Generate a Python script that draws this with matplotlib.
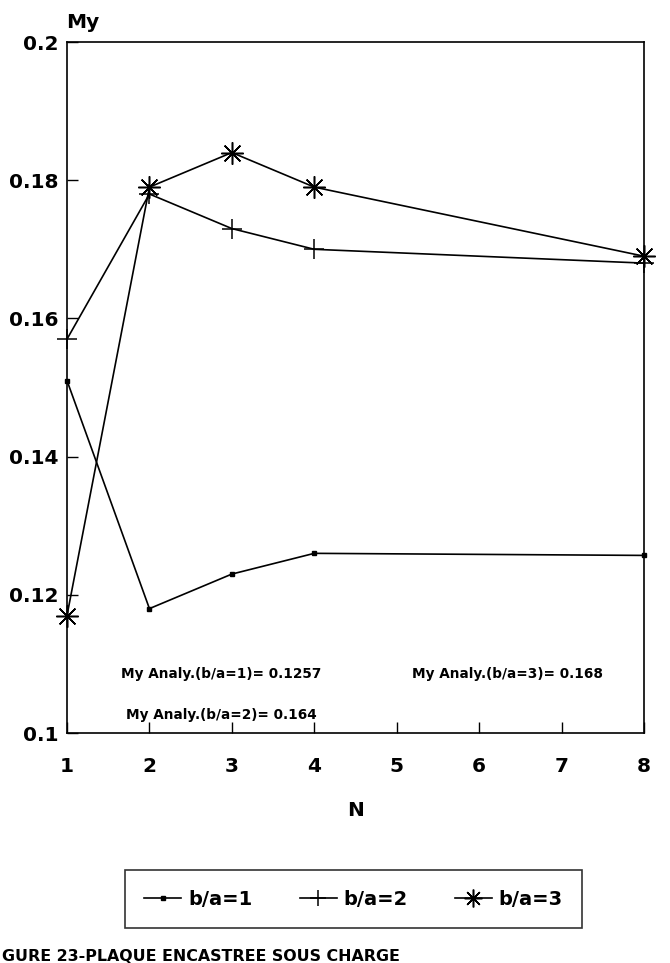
import matplotlib
matplotlib.use("Agg")
import matplotlib.pyplot as plt

plt.rcParams['font.family'] = ['DejaVu Sans']

# Data
N = [1, 2, 3, 4, 8]
my_ba1 = [0.151, 0.118, 0.123, 0.126, 0.1257]
my_ba2 = [0.157, 0.178, 0.173, 0.170, 0.168]
my_ba3 = [0.117, 0.179, 0.184, 0.179, 0.169]
series_labels = ['b/a=1', 'b/a=2', 'b/a=3']
x_ticks = [1, 2, 3, 4, 5, 6, 7, 8]
y_ticks = [0.1, 0.12, 0.14, 0.16, 0.18, 0.2]
y_tick_labels = ['0.1', '0.12', '0.14', '0.16', '0.18', '0.2']
annotations = ['My Analy.(b/a=1)= 0.1257', 'My Analy.(b/a=2)= 0.164', 'My Analy.(b/a=3)= 0.168']
caption = 'GURE 23-PLAQUE ENCASTREE SOUS CHARGE'

W, H = 670, 963
fig = plt.figure(figsize=(W / 100, H / 100), dpi=100)
L, R, T, B = 67, 644, 42, 733
ax = fig.add_axes([L / W, 1 - B / H, (R - L) / W, (B - T) / H])

lw = 1.2
star = (8, 2, 0)
h1, = ax.plot(N, my_ba1, color='black', lw=lw, marker='s', ms=3.5, label=series_labels[0])
h2, = ax.plot(N, my_ba2, color='black', lw=lw, marker='+', ms=14, mew=1.1, label=series_labels[1])
h3, = ax.plot(N, my_ba3, color='black', lw=lw, marker=star, ms=16, mew=1.1, label=series_labels[2])
for h in (h1, h2, h3):
    h.set_clip_on(False)

ax.set_xlim(1, 8)
ax.set_ylim(0.1, 0.2)
ax.set_xticks(x_ticks)
ax.set_yticks(y_ticks)
ax.set_yticklabels(y_tick_labels)
ax.tick_params(axis='both', direction='in', length=8, width=1, labelsize=14.5, color='black')
ax.tick_params(axis='x', pad=17)
ax.tick_params(axis='y', pad=6)
for lab in ax.get_xticklabels() + ax.get_yticklabels():
    lab.set_fontweight('bold')
for s in ax.spines.values():
    s.set_linewidth(1.2)

ax.text(0.0936, 0.0854, annotations[0], transform=ax.transAxes, fontsize=9.8,
        fontweight='bold', ha='left', va='center')
ax.text(0.598, 0.0854, annotations[2], transform=ax.transAxes, fontsize=9.8,
        fontweight='bold', ha='left', va='center')
ax.text(0.102, 0.026, annotations[1], transform=ax.transAxes, fontsize=9.8,
        fontweight='bold', ha='left', va='center')

fig.text(83 / W, 1 - 22 / H, 'My', fontsize=14.5, fontweight='bold', ha='center', va='center')
fig.text(355.5 / W, 1 - 810 / H, 'N', fontsize=14.5, fontweight='bold', ha='center', va='center')

leg = fig.legend(handles=[h1, h2, h3], loc='center',
                 bbox_to_anchor=(125 / W, 1 - 937 / H, 457 / W, 76 / H),
                 mode='expand', ncol=3, prop={'size': 14, 'weight': 'bold'},
                 frameon=True, fancybox=False, markerscale=0.8,
                 edgecolor='black', handlelength=1.9, handletextpad=0.35,
                 borderpad=1.0, numpoints=1, borderaxespad=0)
leg.get_frame().set_linewidth(1.2)

fig.text(2 / W, 1 - 961 / H, caption, fontsize=11.4, fontweight='bold',
         ha='left', va='baseline')

fig.savefig('out.png', dpi=100)
